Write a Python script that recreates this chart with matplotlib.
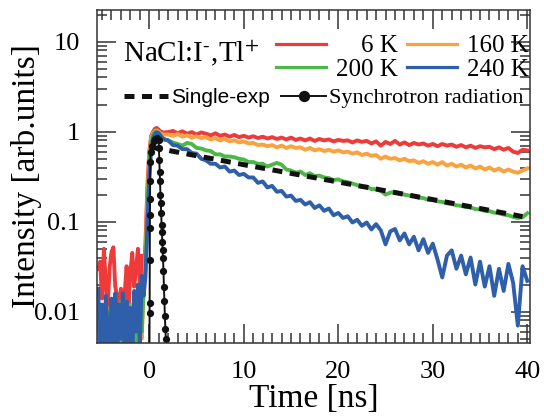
import numpy as np
import matplotlib
matplotlib.use("Agg")
import matplotlib.pyplot as plt
from matplotlib.ticker import FixedLocator, FixedFormatter, MultipleLocator, LogLocator, NullFormatter

plt.rcParams["font.family"] = ["Liberation Serif", "DejaVu Serif"]
plt.rcParams["mathtext.fontset"] = "stix"

# time grid (ns): background before the pulse, rising edge, decay
T_PRE = np.linspace(-5.4, -0.6, 25)
T_RISE = [-0.4, -0.2, 0.0, 0.2, 0.4, 0.6, 0.8, 1.0, 1.2, 1.5]
T_MAIN = np.linspace(2.0, 40.0, 77)

# 6 K
RED_PRE = [0.030, 0.036, 0.014, 0.050, 0.020, 0.011, 0.031, 0.046, 0.052, 0.019,
           0.015, 0.011, 0.018, 0.010, 0.016, 0.032, 0.012, 0.027, 0.045, 0.019,
           0.030, 0.050, 0.021, 0.042, 0.022]
RED_RISE = [0.06, 0.25, 0.60, 0.90, 1.00, 1.08, 1.10, 1.05, 1.00, 0.98]
RED_MAIN = [0.99, 1.02, 0.96, 1.01, 0.95, 0.99, 0.93, 0.98, 0.95, 0.91,
            0.96, 0.90, 0.93, 0.88, 0.92, 0.87, 0.90, 0.86, 0.89, 0.85,
            0.88, 0.84, 0.87, 0.83, 0.86, 0.82, 0.86, 0.81, 0.84, 0.80,
            0.84, 0.79, 0.83, 0.80, 0.82, 0.78, 0.81, 0.79, 0.80, 0.76,
            0.80, 0.77, 0.79, 0.74, 0.78, 0.70, 0.77, 0.73, 0.79, 0.72,
            0.76, 0.71, 0.75, 0.72, 0.74, 0.70, 0.73, 0.69, 0.73, 0.70,
            0.72, 0.68, 0.71, 0.67, 0.70, 0.66, 0.69, 0.67, 0.68, 0.64,
            0.67, 0.63, 0.66, 0.60, 0.58, 0.63, 0.62]

# 160 K
ORANGE_PRE = [0.010, 0.003, 0.012, 0.004, 0.009, 0.003, 0.011, 0.004, 0.013, 0.003,
              0.010, 0.005, 0.012, 0.003, 0.009, 0.004, 0.011, 0.003, 0.012, 0.004,
              0.010, 0.003, 0.014, 0.005, 0.016]
ORANGE_RISE = [0.04, 0.18, 0.50, 0.85, 0.97, 1.02, 1.03, 1.00, 0.95, 0.93]
ORANGE_MAIN = [0.93, 0.90, 0.94, 0.88, 0.91, 0.86, 0.89, 0.85, 0.87, 0.82,
               0.85, 0.80, 0.83, 0.78, 0.80, 0.76, 0.78, 0.74, 0.75, 0.71,
               0.72, 0.69, 0.71, 0.67, 0.70, 0.66, 0.69, 0.66, 0.67, 0.63,
               0.66, 0.62, 0.64, 0.61, 0.63, 0.60, 0.62, 0.59, 0.60, 0.57,
               0.59, 0.55, 0.57, 0.54, 0.55, 0.50, 0.53, 0.50, 0.51, 0.48,
               0.50, 0.47, 0.48, 0.45, 0.47, 0.44, 0.46, 0.43, 0.46, 0.42,
               0.44, 0.41, 0.43, 0.40, 0.42, 0.39, 0.41, 0.38, 0.40, 0.37,
               0.39, 0.36, 0.38, 0.36, 0.35, 0.37, 0.39]

# 200 K
GREEN_PRE = [0.011, 0.004, 0.009, 0.003, 0.012, 0.004, 0.010, 0.003, 0.011, 0.005,
             0.009, 0.003, 0.013, 0.004, 0.010, 0.003, 0.012, 0.004, 0.009, 0.003,
             0.013, 0.004, 0.015, 0.006, 0.018]
GREEN_RISE = [0.03, 0.14, 0.42, 0.78, 0.93, 1.00, 1.00, 0.97, 0.90, 0.84]
GREEN_MAIN = [0.80, 0.76, 0.73, 0.70, 0.75, 0.73, 0.66, 0.65, 0.62, 0.61,
              0.56, 0.56, 0.53, 0.53, 0.52, 0.50, 0.49, 0.46, 0.46, 0.44,
              0.44, 0.41, 0.43, 0.45, 0.43, 0.38, 0.37, 0.35, 0.36, 0.33,
              0.345, 0.32, 0.325, 0.31, 0.305, 0.29, 0.295, 0.28, 0.275, 0.265,
              0.255, 0.245, 0.245, 0.23, 0.23, 0.22, 0.20, 0.21, 0.215, 0.205,
              0.20, 0.195, 0.193, 0.185, 0.183, 0.175, 0.175, 0.168, 0.166, 0.16,
              0.158, 0.152, 0.15, 0.145, 0.144, 0.138, 0.137, 0.132, 0.131, 0.126,
              0.124, 0.12, 0.118, 0.113, 0.11, 0.112, 0.124]

# 240 K
BLUE_PRE = [0.018, 0.004, 0.012, 0.003, 0.015, 0.006, 0.003, 0.014, 0.004, 0.016,
            0.003, 0.012, 0.005, 0.016, 0.003, 0.013, 0.004, 0.011, 0.003, 0.017,
            0.006, 0.020, 0.004, 0.025, 0.015]
BLUE_RISE = [0.025, 0.09, 0.30, 0.62, 0.85, 0.95, 0.98, 0.96, 0.90, 0.82]
BLUE_MAIN = [0.80, 0.71, 0.70, 0.64, 0.64, 0.58, 0.57, 0.50, 0.48, 0.44,
             0.44, 0.40, 0.41, 0.36, 0.37, 0.33, 0.34, 0.31, 0.31, 0.27,
             0.28, 0.24, 0.25, 0.215, 0.22, 0.19, 0.195, 0.17, 0.175, 0.155,
             0.165, 0.142, 0.152, 0.132, 0.14, 0.118, 0.125, 0.11, 0.115, 0.098,
             0.105, 0.09, 0.098, 0.082, 0.094, 0.08, 0.056, 0.078, 0.083, 0.062,
             0.074, 0.056, 0.068, 0.048, 0.064, 0.045, 0.057, 0.038, 0.024, 0.042,
             0.048, 0.030, 0.042, 0.026, 0.040, 0.020, 0.036, 0.019, 0.032, 0.015,
             0.030, 0.017, 0.034, 0.021, 0.007, 0.032, 0.022]

# single exponential fit
FIT_T = [0.3, 10.0, 20.0, 30.0, 39.5]
FIT_V = [0.67, 0.43, 0.276, 0.176, 0.114]

# synchrotron radiation pulse
SYN_T = [0.02, 0.03, 0.04, 0.05, 0.06, 0.07, 0.08, 0.09, 0.11, 0.14, 0.25,
         0.45, 0.65, 0.85, 0.98, 1.02, 1.06, 1.10, 1.14, 1.18, 1.22, 1.26,
         1.30, 1.34, 1.38, 1.42, 1.46, 1.50, 1.55, 1.60, 1.65, 1.70, 1.75]
SYN_V = [0.004, 0.0096, 0.0125, 0.038, 0.085, 0.12, 0.18, 0.28, 0.46, 0.60, 0.70,
         0.78, 0.83, 0.86, 0.80, 0.66, 0.48, 0.36, 0.28, 0.20, 0.16, 0.125,
         0.092, 0.077, 0.060, 0.048, 0.039, 0.028, 0.019, 0.013, 0.009, 0.0065, 0.005]

RED, ORANGE, GREEN, BLUE = "#EE3A3A", "#F9A23E", "#4DB847", "#2F5FAA"

t_all = np.concatenate([T_PRE, T_RISE, T_MAIN])

fig = plt.figure(figsize=(5.44, 4.16), dpi=100)
ax = fig.add_axes([0.178, 0.1755, 0.7965, 0.8005])

curves = {}
for key, col, pre, rise, main in [
    ("6", RED, RED_PRE, RED_RISE, RED_MAIN),
    ("160", ORANGE, ORANGE_PRE, ORANGE_RISE, ORANGE_MAIN),
    ("200", GREEN, GREEN_PRE, GREEN_RISE, GREEN_MAIN),
    ("240", BLUE, BLUE_PRE, BLUE_RISE, BLUE_MAIN),
]:
    vals = np.concatenate([pre, rise, main])
    curves[key], = ax.plot(t_all, vals, color=col, lw=2.8, solid_joinstyle="round")

fit_line, = ax.plot(FIT_T, FIT_V, color="#111111", lw=3.6, ls=(0, (2.0, 1.5)))
syn_line, = ax.plot(SYN_T, SYN_V, color="#111111", lw=1.4, marker="o", ms=4.2)

ax.set_yscale("log")
ax.set_xlim(-5.55, 40.3)
ax.set_ylim(0.00449, 22.5)

ax.xaxis.set_major_locator(MultipleLocator(10))
ax.xaxis.set_minor_locator(MultipleLocator(1))
ax.yaxis.set_major_locator(FixedLocator([0.01, 0.1, 1, 10]))
ax.yaxis.set_major_formatter(FixedFormatter(["0.01", "0.1", "1", "10"]))
ax.yaxis.set_minor_locator(LogLocator(base=10, subs=np.arange(2, 10)))
ax.yaxis.set_minor_formatter(NullFormatter())

ax.tick_params(which="both", direction="in", top=True, right=True,
               width=1.1, color="#333333", labelsize=19)
ax.tick_params(axis="x", which="both", pad=13)
ax.tick_params(axis="y", which="both", pad=12)
ax.tick_params(which="major", length=14)
ax.tick_params(which="minor", length=7)
for sp in ax.spines.values():
    sp.set_linewidth(1.1)
    sp.set_edgecolor("#333333")

ax.set_xlabel("Time [ns]", fontsize=24, labelpad=0)
ax.set_ylabel("Intensity [arb.units]", fontsize=24, labelpad=-6)

ax.text(0.061, 0.844, "NaCl:I$^{\\text{-}}$,Tl$^{+}$", transform=ax.transAxes,
        fontsize=21, ha="left", va="baseline")

leg1 = ax.legend([curves["6"], curves["200"], curves["160"], curves["240"]],
                 ["\u2007\u20076 K", "200 K", "160 K", "240 K"],
                 ncol=2, loc="upper right", bbox_to_anchor=(0.997, 0.925),
                 frameon=False, fontsize=18, handlelength=2.0,
                 handletextpad=0.4, columnspacing=0.36, labelspacing=0.05,
                 borderpad=0, borderaxespad=0)
for h in leg1.get_lines():
    h.set_linewidth(2.3)
ax.add_artist(leg1)

leg2 = ax.legend([fit_line, syn_line], ["Single-exp", "Synchrotron radiation"],
                 ncol=2, loc="upper right", bbox_to_anchor=(0.985, 0.766),
                 frameon=False, fontsize=16, handlelength=2.0,
                 handletextpad=0.15, columnspacing=0.5, markerscale=1.7,
                 borderpad=0, borderaxespad=0)
leg2.get_texts()[0].set_family(["Liberation Sans", "DejaVu Sans"])
leg2.get_texts()[0].set_fontsize(15)

fig.savefig("out.png", dpi=100)
